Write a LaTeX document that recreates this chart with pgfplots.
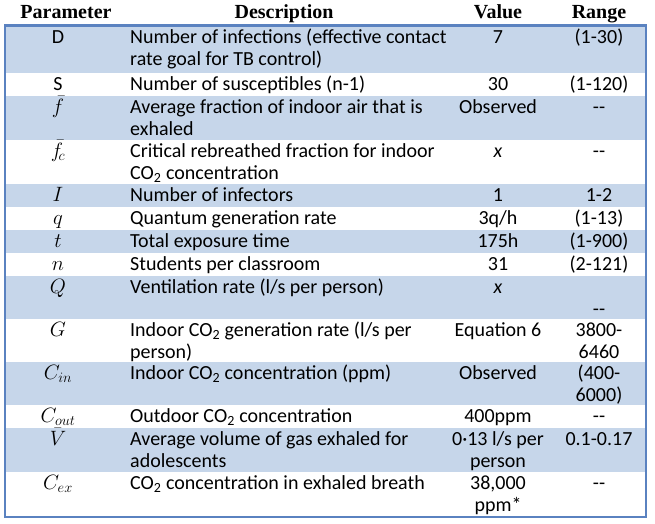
\documentclass[border=0pt]{standalone}
\usepackage{pgfplots}
\pgfplotsset{compat=1.18}
\usepackage{fontspec}
\setmainfont{Carlito}
\newfontfamily\headfont{Liberation Serif}

\definecolor{rowblue}{HTML}{C6D6EA}
\definecolor{rule}{HTML}{5A82C0}

\begin{document}
\begin{tikzpicture}[every node/.style={inner sep=0pt, font=\fontsize{20}{22}\selectfont},
  hd/.style={anchor=base, font=\headfont\bfseries\fontsize{20}{22}\selectfont},
  par/.style={anchor=base, font=\fontsize{20.74}{22}\selectfont}]
\begin{axis}[
  width=655pt, height=523pt, scale only axis,
  xmin=0, xmax=655, ymin=0, ymax=523, y dir=reverse,
  hide axis, clip=false]
\addplot[fill=white, draw=none] coordinates {(0,0) (655,0) (655,523) (0,523)} -- cycle;
% shaded rows
\addplot[fill=rowblue, draw=none] coordinates {(5,26) (645,26) (645,73) (5,73)} -- cycle;
\addplot[fill=rowblue, draw=none] coordinates {(5,96) (645,96) (645,140) (5,140)} -- cycle;
\addplot[fill=rowblue, draw=none] coordinates {(5,184) (645,184) (645,207) (5,207)} -- cycle;
\addplot[fill=rowblue, draw=none] coordinates {(5,230) (645,230) (645,253) (5,253)} -- cycle;
\addplot[fill=rowblue, draw=none] coordinates {(5,276) (645,276) (645,319) (5,319)} -- cycle;
\addplot[fill=rowblue, draw=none] coordinates {(5,362) (645,362) (645,405) (5,405)} -- cycle;
\addplot[fill=rowblue, draw=none] coordinates {(5,428) (645,428) (645,472) (5,472)} -- cycle;
% borders
\addplot[draw=rule, line width=2pt] coordinates {(5,26) (5,517) (646,517) (646,26)};
\addplot[draw=rule, line width=3pt] coordinates {(4,25.5) (647,25.5)};

% header
\node[hd] at (axis cs:66,18) {Parameter};
\node[hd] at (axis cs:284,18) {Description};
\node[hd] at (axis cs:498,18) {Value};
\node[hd] at (axis cs:599,18) {Range};

% D
\node[anchor=base] at (axis cs:58,43) {D};
\node[anchor=base west] at (axis cs:130,43) {Number of infections (effective contact};
\node[anchor=base west] at (axis cs:130,65) {rate goal for TB control)};
\node[anchor=base] at (axis cs:498,43) {7};
\node[anchor=base] at (axis cs:599,43) {(1-30)};
% S
\node[anchor=base] at (axis cs:58,90) {S};
\node[anchor=base west] at (axis cs:130,90) {Number of susceptibles (n-1)};
\node[anchor=base] at (axis cs:498,90) {30};
\node[anchor=base] at (axis cs:599,90) {(1-120)};
% f bar
\node[par] at (axis cs:58,113) {$\bar{f}$};
\node[anchor=base west] at (axis cs:130,113) {Average fraction of indoor air that is};
\node[anchor=base west] at (axis cs:130,135) {exhaled};
\node[anchor=base] at (axis cs:498,113) {Observed};
\node[anchor=base] at (axis cs:599,113) {-{}-};
% f_c bar
\node[par] at (axis cs:58,157) {$\bar{f}_{\!c}$};
\node[anchor=base west] at (axis cs:130,157) {Critical rebreathed fraction for indoor};
\node[anchor=base west] at (axis cs:130,179) {CO\textsubscript{2} concentration};
\node[anchor=base] at (axis cs:498,157) {\textit{x}};
\node[anchor=base] at (axis cs:599,157) {-{}-};
% I
\node[par] at (axis cs:58,201) {$I$};
\node[anchor=base west] at (axis cs:130,201) {Number of infectors};
\node[anchor=base] at (axis cs:498,201) {1};
\node[anchor=base] at (axis cs:599,201) {1-2};
% q
\node[par] at (axis cs:58,224) {$q$};
\node[anchor=base west] at (axis cs:130,224) {Quantum generation rate};
\node[anchor=base] at (axis cs:498,224) {3q/h};
\node[anchor=base] at (axis cs:599,224) {(1-13)};
% t
\node[par] at (axis cs:58,247) {$t$};
\node[anchor=base west] at (axis cs:130,247) {Total exposure time};
\node[anchor=base] at (axis cs:498,247) {175h};
\node[anchor=base] at (axis cs:599,247) {(1-900)};
% n
\node[par] at (axis cs:58,270) {$n$};
\node[anchor=base west] at (axis cs:130,270) {Students per classroom};
\node[anchor=base] at (axis cs:498,270) {31};
\node[anchor=base] at (axis cs:599,270) {(2-121)};
% Q
\node[par] at (axis cs:58,293) {$Q$};
\node[anchor=base west] at (axis cs:130,293) {Ventilation rate (l/s per person)};
\node[anchor=base] at (axis cs:498,293) {\textit{x}};
\node[anchor=base] at (axis cs:599,315) {-{}-};
% G
\node[par] at (axis cs:58,336) {$G$};
\node[anchor=base west] at (axis cs:130,336) {Indoor CO\textsubscript{2} generation rate (l/s per};
\node[anchor=base west] at (axis cs:130,358) {person)};
\node[anchor=base] at (axis cs:498,336) {Equation 6};
\node[anchor=base] at (axis cs:599,336) {3800-};
\node[anchor=base] at (axis cs:599,358) {6460};
% C_in
\node[par] at (axis cs:58,379) {$C_{in}$};
\node[anchor=base west] at (axis cs:130,379) {Indoor CO\textsubscript{2} concentration (ppm)};
\node[anchor=base] at (axis cs:498,379) {Observed};
\node[anchor=base] at (axis cs:599,379) {(400-};
\node[anchor=base] at (axis cs:599,401) {6000)};
% C_out
\node[par] at (axis cs:58,422) {$C_{out}$};
\node[anchor=base west] at (axis cs:130,422) {Outdoor CO\textsubscript{2} concentration};
\node[anchor=base] at (axis cs:498,422) {400ppm};
\node[anchor=base] at (axis cs:599,422) {-{}-};
% V bar
\node[par] at (axis cs:58,445) {$\bar{V}$};
\node[anchor=base west] at (axis cs:130,445) {Average volume of gas exhaled for};
\node[anchor=base west] at (axis cs:130,467) {adolescents};
\node[anchor=base] at (axis cs:498,445) {0·13 l/s per};
\node[anchor=base] at (axis cs:498,467) {person};
\node[anchor=base] at (axis cs:599,445) {0.1-0.17};
% C_ex
\node[par] at (axis cs:58,489) {$C_{ex}$};
\node[anchor=base west] at (axis cs:130,489) {CO\textsubscript{2} concentration in exhaled breath};
\node[anchor=base] at (axis cs:498,489) {38,000};
\node[anchor=base] at (axis cs:498,511) {ppm*};
\node[anchor=base] at (axis cs:599,489) {-{}-};
\end{axis}
\end{tikzpicture}
\end{document}
